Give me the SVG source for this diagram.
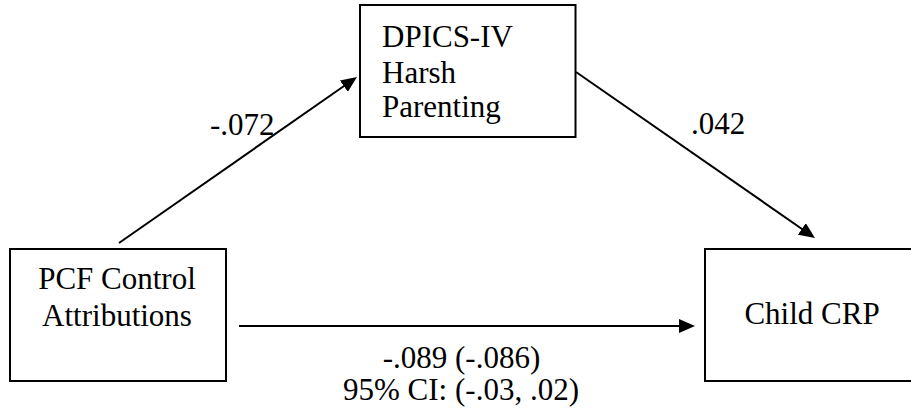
<svg xmlns="http://www.w3.org/2000/svg" width="911" height="415" viewBox="0 0 911 415">
  <style>
    .box { fill: #ffffff; stroke: #000000; stroke-width: 2; }
    .lbl { font-size: 31px; fill: #000000; }
    .mid { text-anchor: middle; }
    .edge { stroke: #000000; stroke-width: 2; fill: none; marker-end: url(#head); }
  </style>
  <defs>
    <marker id="head" viewBox="0 0 16 14" refX="12" refY="7" markerWidth="16" markerHeight="14" markerUnits="userSpaceOnUse" orient="auto">
      <path d="M0,0 L16,7 L0,14 Z" fill="#000000"/>
    </marker>
  </defs>
  <rect width="911" height="415" fill="#ffffff"/>

  <g font-family="Liberation Serif, DejaVu Serif, serif">
    <g id="connectors">
      <line class="edge" x1="119" y1="243" x2="353.7" y2="79.3"/>
      <line class="edge" x1="576" y1="72" x2="811.7" y2="235.7"/>
      <line class="edge" x1="239" y1="326" x2="691" y2="326"/>
      <text class="lbl" x="210" y="135">-.072</text>
      <text class="lbl" x="691" y="134">.042</text>
      <text class="lbl mid" x="461.5" y="368">-.089 (-.086)</text>
      <text class="lbl mid" x="461" y="400">95% CI: (-.03, .02)</text>
    </g>

    <g id="harsh-parenting">
      <rect class="box" x="360" y="5" width="215.5" height="132"/>
      <text class="lbl" x="382" y="47">DPICS-IV</text>
      <text class="lbl" x="382" y="82.5">Harsh</text>
      <text class="lbl" x="382" y="117">Parenting</text>
    </g>

    <g id="control-attributions">
      <rect class="box" x="10" y="249" width="216" height="132"/>
      <text class="lbl mid" x="117" y="289">PCF Control</text>
      <text class="lbl mid" x="117" y="325.5">Attributions</text>
    </g>

    <g id="child-crp">
      <rect class="box" x="705" y="249" width="216" height="132"/>
      <text class="lbl mid" x="812" y="324">Child CRP</text>
    </g>
  </g>
</svg>
